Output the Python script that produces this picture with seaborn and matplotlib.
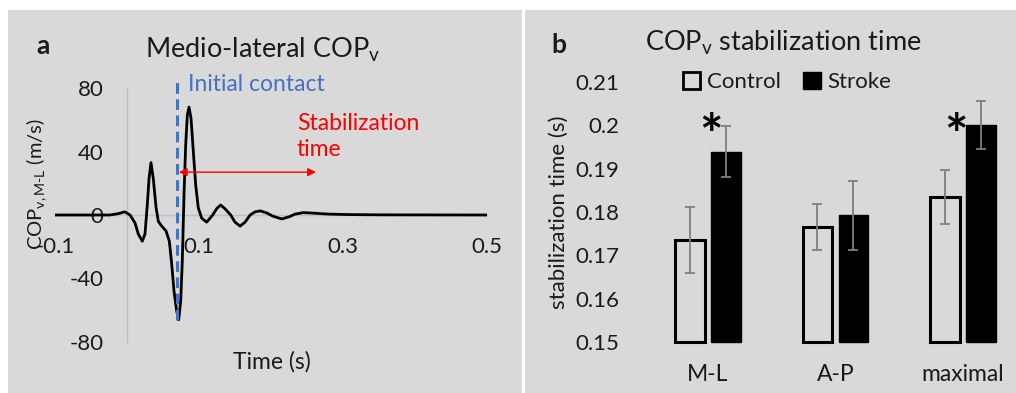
import pandas as pd
import matplotlib.pyplot as plt
import seaborn as sns
from matplotlib.patches import Rectangle, Patch

sns.set_style("white")
plt.rcParams['font.family'] = ['Lato', 'DejaVu Sans']
plt.rcParams['mathtext.fontset'] = 'custom'
plt.rcParams['mathtext.rm'] = 'Lato'
plt.rcParams['mathtext.it'] = 'Lato:italic'

# Panel a : medio-lateral COP velocity
temps = [-0.1, -0.05, -0.024, -0.0125, -0.003, 0.0042, 0.0111, 0.0157, 0.0213, 0.025,
         0.0282, 0.0306, 0.0333, 0.0365, 0.0403, 0.0435, 0.0482, 0.0542, 0.0588, 0.0621,
         0.0653, 0.069, 0.0718, 0.0746, 0.0768, 0.0792, 0.0815, 0.0838, 0.0861, 0.0889,
         0.0921, 0.0954, 0.099, 0.1038, 0.1107, 0.119, 0.1246, 0.130, 0.136, 0.144,
         0.150, 0.157, 0.164, 0.171, 0.178, 0.185, 0.194, 0.203, 0.215, 0.226,
         0.233, 0.245, 0.258, 0.278, 0.303, 0.351, 0.5]
cop_ml = [0, 0, 0, 0.8, 2, 0, -5, -12, -16.5, -12,
          6.5, 23, 33, 23, 5, -4, -7, -10, -16.5, -31,
          -48, -60.5, -66, -54, -29, 13, 44, 63, 68, 61,
          40, 19, 4.5, -2, -4.5, 0, 4, 6.3, 4, 0,
          -4.5, -7, -4.5, 0, 2, 2.6, 1.3, -0.8, -2.5, -1,
          0.5, 1.5, 1.2, 0.6, 0.3, 0.1, 0]
contact_initial = 0.069
fin_stabilisation = 0.2625
x_ticks_a = [-0.1, 0.1, 0.3, 0.5]
x_labels_a = ["-0.1", "0.1", "0.3", "0.5"]
y_ticks_a = [-80, -40, 0, 40, 80]
y_labels_a = ["-80", "-40", "0", "40", "80"]

# Panel b : stabilization time
categories = ["M-L", "A-P", "maximal"]
groupes = ["Control", "Stroke"]
control_moy = [0.1735, 0.1765, 0.1835]
control_err = [0.0076, 0.0053, 0.0062]
stroke_moy = [0.1939, 0.1792, 0.2001]
stroke_err = [0.0059, 0.0080, 0.0056]
significatif = [True, False, True]
etoiles_x = [0.02, 1.945]
y_ticks_b = [0.15, 0.16, 0.17, 0.18, 0.19, 0.20, 0.21]
y_labels_b = ["0.15", "0.16", "0.17", "0.18", "0.19", "0.2", "0.21"]

gris = "#D9D9D9"
texte = "#1a1a1a"
W, H = 1016, 393
fs = 16

fig = plt.figure(figsize=(W / 100, H / 100), dpi=100)
fig.patch.set_facecolor("white")
fig.patches.append(Rectangle((8 / W, 0), 514 / W, 383 / H, transform=fig.transFigure,
                             facecolor=gris, edgecolor="none", zorder=-5))
fig.patches.append(Rectangle((525 / W, 0), 491 / W, 383 / H, transform=fig.transFigure,
                             facecolor=gris, edgecolor="none", zorder=-5))

# ---------- panel a ----------
ax1 = fig.add_axes([55 / W, 51 / H, 432 / W, 254 / H])
ax1.set_facecolor("none")
sns.lineplot(x=temps, y=cop_ml, color="black", linewidth=2, ax=ax1)
ax1.set_xlim(-0.1, 0.5)
ax1.set_ylim(-80, 80)
for s in ["top", "right"]:
    ax1.spines[s].set_visible(False)
ax1.spines["left"].set_position(("data", 0))
ax1.spines["bottom"].set_position(("data", 0))
for s in ["left", "bottom"]:
    ax1.spines[s].set_color("#BFBFBF")
    ax1.spines[s].set_linewidth(1)
    ax1.spines[s].set_zorder(0)
ax1.set_xticks(x_ticks_a)
ax1.set_xticklabels(x_labels_a)
ax1.set_yticks(y_ticks_a)
ax1.set_yticklabels(y_labels_a)
ax1.tick_params(axis="x", length=0, pad=16, labelsize=fs, labelcolor=texte)
ax1.tick_params(axis="y", length=0, pad=17, labelsize=fs, labelcolor=texte)

ax1.vlines(contact_initial, min(cop_ml), 85, colors="#4472C4", linewidth=2.2,
           linestyles=(0, (3.5, 1.8)), clip_on=False, zorder=3)
ax1.text(0.085, 82.5, "Initial contact", color="#4472C4", fontsize=16.5, va="center")
ax1.annotate("", xy=(contact_initial + 0.003, 27), xytext=(fin_stabilisation, 27),
             arrowprops=dict(arrowstyle="<|-|>", color="red", lw=1,
                             mutation_scale=12, shrinkA=0, shrinkB=0))
ax1.text(0.236, 49.5, "Stabilization\ntime", color="red", fontsize=16.5, va="center",
         linespacing=1.25)

fig.text(37 / W, 1 - 184 / H, r"COP$_{\mathregular{v,M\text{-}L}}$ (m/s)", rotation=90,
         ha="center", va="center", fontsize=14.5, color=texte)
fig.text(272 / W, 1 - 362 / H, "Time (s)", ha="center", va="center", fontsize=16.5,
         color=texte)
fig.text(263 / W, 1 - 50 / H, r"Medio-lateral COP$_{\mathregular{v}}$", ha="center",
         va="center", fontsize=19.5, color=texte)
fig.text(43 / W, 1 - 46 / H, "a", ha="center", va="center", fontsize=19,
         fontweight="bold", color=texte)

# ---------- panel b ----------
df = pd.DataFrame({
    "categorie": categories * 2,
    "groupe": [groupes[0]] * 3 + [groupes[1]] * 3,
    "temps": control_moy + stroke_moy,
})
ax2 = fig.add_axes([630 / W, 51 / H, 380 / W, 260 / H])
ax2.set_facecolor("none")
sns.barplot(data=df, x="categorie", y="temps", hue="groupe", hue_order=groupes,
            palette={"Control": gris, "Stroke": "black"}, saturation=1,
            width=0.565, gap=0.17, errorbar=None, legend=False, ax=ax2)
ax2.set_ylim(0.15, 0.21)
ax2.set_xlim(-0.612, 2.369)
sns.despine(ax=ax2, left=True, bottom=True)

barres = list(ax2.containers)
erreurs = [control_err, stroke_err]
for k, cont in enumerate(barres):
    for rect, err in zip(cont.patches, erreurs[k]):
        h = rect.get_height()
        rect.set_y(0.15)
        rect.set_height(h - 0.15)
        rect.set_edgecolor("black")
        rect.set_linewidth(2.2 if k == 0 else 1)
        rect.set_clip_on(False)
        xc = rect.get_x() + rect.get_width() / 2
        ax2.errorbar(xc, h, yerr=err, color="#7F7F7F", elinewidth=1.3, capsize=3.5,
                     capthick=1.3, zorder=5)

# significance stars
etoiles = [i for i, sig in enumerate(significatif) if sig]
for i, xs in zip(etoiles, etoiles_x):
    ax2.text(xs, 0.1970, "*", fontsize=40, fontweight="bold",
             ha="center", va="center", color="black")

ax2.set_yticks(y_ticks_b)
ax2.set_yticklabels(y_labels_b)
ax2.set_xlabel("")
ax2.set_ylabel("")
ax2.tick_params(axis="x", length=0, pad=16, labelsize=16.5, labelcolor=texte)
ax2.tick_params(axis="y", length=0, pad=8, labelsize=fs, labelcolor=texte)

poignees = [Patch(facecolor=gris, edgecolor="black", linewidth=2),
            Patch(facecolor="black", edgecolor="black")]
ax2.legend(poignees, groupes, loc="center", bbox_to_anchor=(787 / W, 1 - 82 / H),
           bbox_transform=fig.transFigure, ncol=2, frameon=False, fontsize=16,
           handlelength=0.8, handleheight=0.8, handletextpad=0.3, columnspacing=1.0,
           labelcolor=texte)

fig.text(559 / W, 1 - 212 / H, "stabilization time (s)", rotation=90, ha="center",
         va="center", fontsize=fs, color=texte)
fig.text(783 / W, 1 - 43 / H, r"COP$_{\mathregular{v}}$ stabilization time", ha="center",
         va="center", fontsize=19.5, color=texte)
fig.text(559 / W, 1 - 45 / H, "b", ha="center", va="center", fontsize=19,
         fontweight="bold", color=texte)

fig.savefig("out.png", dpi=100, facecolor=fig.get_facecolor())
